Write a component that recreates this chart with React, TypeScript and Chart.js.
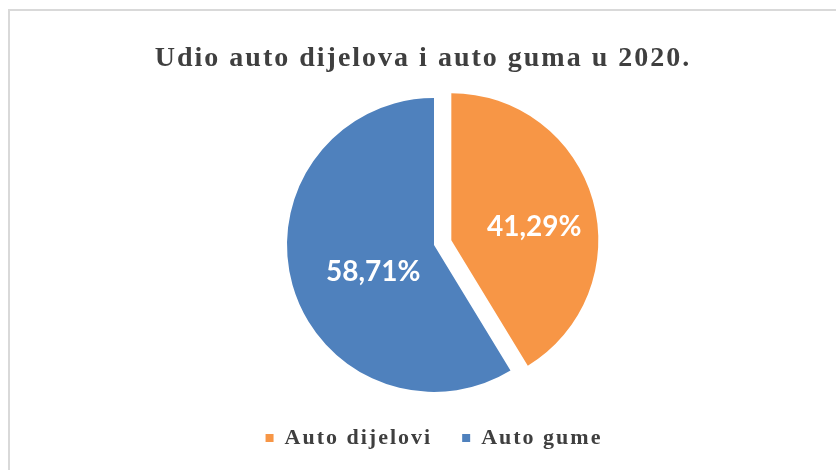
import React, { useEffect, useRef } from "react";
import { Chart, registerables } from "chart.js";

Chart.register(...registerables);

const titleText = "Udio auto dijelova i auto guma u 2020.";
const categories = ["Auto dijelovi", "Auto gume"];
const shares = [41.29, 58.71];
const sliceColors = ["#F79646", "#4F81BD"];
const sliceExplode = [18, 0];
const labelRadiusFactor = [0.585, 0.43];

const fmt = (v: number) => v.toFixed(2).replace(".", ",") + "%";

const spacingPlugin = {
  id: "spacing",
  beforeLayout(chart: any) {
    chart.ctx.letterSpacing = "2px";
  },
  beforeDraw(chart: any) {
    chart.ctx.letterSpacing = "2px";
  },
};

const explodePlugin = {
  id: "explode",
  beforeDatasetsDraw(chart: any) {
    const meta = chart.getDatasetMeta(0);
    meta.data.forEach((arc: any, i: number) => {
      if (arc._exploded) return;
      const orig = arc.draw.bind(arc);
      arc.draw = (ctx: CanvasRenderingContext2D, area: any) => {
        const mid = (arc.startAngle + arc.endAngle) / 2;
        const e = sliceExplode[i] || 0;
        ctx.save();
        ctx.translate(Math.cos(mid) * e, Math.sin(mid) * e);
        orig(ctx, area);
        ctx.restore();
      };
      arc._exploded = true;
    });
  },
};

const titlePlugin = {
  id: "customTitle",
  afterDraw(chart: any) {
    const ctx = chart.ctx;
    ctx.save();
    ctx.letterSpacing = "2px";
    ctx.font = "bold 28px 'Liberation Serif', 'Times New Roman', serif";
    ctx.fillStyle = "#3f3f3f";
    ctx.textAlign = "center";
    ctx.textBaseline = "alphabetic";
    ctx.fillText(titleText, 423, 66);
    ctx.restore();
  },
};

const labelPlugin = {
  id: "sliceLabels",
  afterDatasetsDraw(chart: any) {
    const ctx = chart.ctx;
    const meta = chart.getDatasetMeta(0);
    ctx.save();
    ctx.letterSpacing = "0px";
    ctx.font = "bold 28px Lato, 'Open Sans', sans-serif";
    ctx.fillStyle = "#ffffff";
    ctx.textAlign = "center";
    ctx.textBaseline = "middle";
    meta.data.forEach((arc: any, i: number) => {
      const p = arc.getProps(["x", "y", "startAngle", "endAngle", "outerRadius"], true);
      const mid = (p.startAngle + p.endAngle) / 2;
      const d = p.outerRadius * labelRadiusFactor[i] + (sliceExplode[i] || 0);
      const x = p.x + Math.cos(mid) * d;
      const y = p.y + Math.sin(mid) * d + 10;
      ctx.fillText(fmt(chart.data.datasets[0].data[i]), x, y);
    });
    ctx.restore();
  },
};

export default function App() {
  const ref = useRef<HTMLCanvasElement | null>(null);
  useEffect(() => {
    if (!ref.current) return;
    const chart = new Chart(ref.current, {
      type: "pie",
      data: {
        labels: categories,
        datasets: [
          {
            data: shares,
            backgroundColor: sliceColors,
            borderWidth: 0,
          },
        ],
      },
      options: {
        responsive: false,
        animation: false,
        radius: 147,
        layout: { padding: { top: 93, bottom: 11, left: 32, right: 0 } },
        plugins: {
          title: { display: false },
          tooltip: { enabled: false },
          legend: {
            display: true,
            position: "bottom",
            labels: {
              boxWidth: 8,
              boxHeight: 8,
              padding: 30,
              color: "#3f3f3f",
              font: { family: "'Liberation Serif', 'Times New Roman', serif", size: 22, weight: "bold" },
            },
          },
        },
      } as any,
      plugins: [spacingPlugin, explodePlugin, titlePlugin, labelPlugin],
    });
    return () => chart.destroy();
  }, []);
  return (
    <div style={{ position: "fixed", left: 0, top: 0, width: 836, height: 470, background: "#fff" }}>
      <div
        style={{
          position: "absolute",
          left: 8,
          top: 9,
          width: 900,
          height: 500,
          borderTop: "2px solid #d9d9d9",
          borderLeft: "2px solid #d9d9d9",
        }}
      />
      <canvas ref={ref} width={836} height={470} style={{ position: "absolute", left: 0, top: 0 }} />
    </div>
  );
}
